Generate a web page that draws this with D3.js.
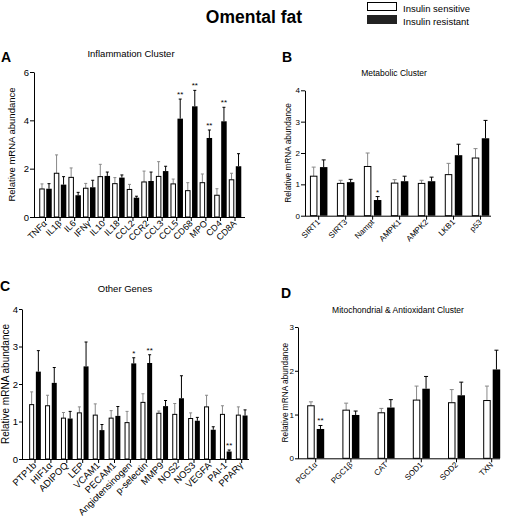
<!DOCTYPE html>
<html><head><meta charset="utf-8">
<script src="https://cdn.jsdelivr.net/npm/d3@7"></script>
<style>body{margin:0;background:#fff}svg{display:block;font-family:"Liberation Sans",Arial,sans-serif}</style>
</head><body><svg id="c" width="505" height="523"></svg>
<script>
// ---- Data ----
const catsA = ["TNFα","IL1β","IL6","IFNγ","IL10","IL18","CCL2","CCR2","CCL3","CCL5","CD68","MPO","CD4","CD8A"];
const sensA = [1.16,1.81,1.64,1.19,1.67,1.38,1.14,1.45,1.68,1.37,1.09,1.42,0.90,1.54];
const sensTopA = [1.37,2.57,2.03,1.39,2.18,1.63,1.35,1.90,2.29,1.57,1.42,1.78,1.17,1.81];
const resA = [1.17,1.34,0.90,1.23,1.70,1.63,0.80,1.49,1.90,4.07,4.58,3.27,3.96,2.10];
const resTopA = [1.38,1.67,1.02,1.52,1.86,1.74,0.86,1.86,2.10,4.88,5.24,3.60,4.54,2.62];
const sigA = ["","","","","","","","","","**","**","**","**",""];
const ticksA = [0,2,4,6];

const catsB = ["SIRT1","SIRT3","Nampt","AMPK1","AMPK2","LKB1","p53"];
const sensB = [1.26,1.03,1.57,1.04,1.03,1.31,1.84];
const sensTopB = [1.55,1.13,2.00,1.15,1.13,1.67,2.14];
const resB = [1.55,1.07,0.50,1.10,1.10,1.93,2.47];
const resTopB = [1.78,1.16,0.61,1.26,1.23,2.28,3.04];
const sigB = ["","","*","","","",""];
const ticksB = [0,1,2,3,4];

const catsC = ["PTP1b","HIF1α","ADIPOQ","LEP","VCAM1","PECAM1","Angiotensinogen","p-selectin","MMP9","NOS2","NOS3","VEGFA","PAI-1","PPARγ"];
const sensC = [1.45,1.42,1.09,1.23,1.17,1.09,0.97,1.51,1.22,1.19,1.08,1.39,1.19,1.17];
const sensTopC = [1.79,1.70,1.24,1.39,1.47,1.29,1.27,1.74,1.28,1.48,1.23,1.70,1.42,1.39];
const resC = [2.33,2.03,1.08,2.47,0.77,1.15,2.55,2.56,1.41,1.62,1.02,0.78,0.20,1.16];
const resTopC = [2.89,2.44,1.27,3.12,0.92,1.40,2.70,2.78,1.56,2.22,1.11,0.86,0.24,1.31];
const sigC = ["","","","","","","*","**","","","","","**",""];
const ticksC = [0,1,2,3,4];

const catsD = ["PGC1α","PGC1β","CAT","SOD1","SOD2","TXN"];
const sensD = [1.20,1.10,1.04,1.33,1.27,1.32];
const sensTopD = [1.29,1.26,1.14,1.65,1.57,1.65];
const resD = [0.67,0.99,1.16,1.59,1.44,2.03];
const resTopD = [0.75,1.08,1.34,1.87,1.74,2.47];
const sigD = ["**","","","","",""];
const ticksD = [0,1,2,3];

const seriesNames = ["Insulin sensitive","Insulin resistant"];

// ---- Drawing ----
const svg = d3.select("#c");

svg.append("text").attr("x",254).attr("y",23).attr("text-anchor","middle")
  .attr("font-size",17.5).attr("font-weight","bold").text("Omental fat");

// legend
const leg = svg.append("g");
leg.append("rect").attr("x",367.5).attr("y",2.5).attr("width",29).attr("height",8).attr("fill","#fff").attr("stroke","#000");
leg.append("rect").attr("x",367).attr("y",15).attr("width",30).attr("height",9).attr("fill","#222");
leg.append("text").attr("x",403).attr("y",12).attr("font-size",9.5).text(seriesNames[0]);
leg.append("text").attr("x",403).attr("y",25).attr("font-size",9.5).text(seriesNames[1]);

function panel(o){
  const g = svg.append("g");
  const y = d3.scaleLinear().domain([0,o.ymax]).range([o.y0,o.yTop]);
  const x = d3.scaleBand().domain(o.cats).range([o.xStart,o.xStart+o.step*o.cats.length]);
  const cx = c => x(c)+x.bandwidth()/2;
  o.cats.forEach((c,i)=>{
    const xc = cx(c);
    const wx = xc - o.gap/2 - o.bw, bx = xc + o.gap/2;
    const ew = wx + o.bw/2, eb = bx + o.bw/2;
    g.append("line").attr("x1",ew).attr("x2",ew).attr("y1",y(o.sens[i])).attr("y2",y(o.sensTop[i])).attr("stroke","#888").attr("stroke-width",1);
    g.append("line").attr("x1",ew-o.cap).attr("x2",ew+o.cap).attr("y1",y(o.sensTop[i])).attr("y2",y(o.sensTop[i])).attr("stroke","#888").attr("stroke-width",1);
    g.append("line").attr("x1",eb).attr("x2",eb).attr("y1",y(o.res[i])).attr("y2",y(o.resTop[i])).attr("stroke","#000").attr("stroke-width",1);
    g.append("line").attr("x1",eb-o.cap).attr("x2",eb+o.cap).attr("y1",y(o.resTop[i])).attr("y2",y(o.resTop[i])).attr("stroke","#000").attr("stroke-width",1);
    g.append("rect").attr("x",wx+0.5).attr("y",y(o.sens[i])).attr("width",o.bw-1).attr("height",o.y0-y(o.sens[i]))
      .attr("fill","#fff").attr("stroke","#000").attr("stroke-width",1);
    g.append("rect").attr("x",bx).attr("y",y(o.res[i])).attr("width",o.bw).attr("height",o.y0-y(o.res[i])).attr("fill","#000");
    if(o.sig[i]) g.append("text").attr("x",eb).attr("y",y(o.resTop[i])-2).attr("text-anchor","middle")
      .attr("font-size",8).text(o.sig[i]);
  });
  const ya = g.append("g").attr("transform",`translate(${o.xAxis},0)`)
    .call(d3.axisLeft(y).tickValues(o.ticks).tickSize(o.tl).tickPadding(1).tickSizeOuter(0).tickFormat(d3.format("d")));
  ya.selectAll("text").attr("font-size",o.tickFs).attr("font-family","inherit").attr("fill","#000");
  ya.select(".domain").attr("stroke","#000");
  g.append("line").attr("x1",o.xAxis).attr("x2",o.xEnd).attr("y1",o.y0+0.5).attr("y2",o.y0+0.5).attr("stroke","#000");
  o.cats.forEach(c=>{
    const xc = cx(c);
    g.append("line").attr("x1",xc).attr("x2",xc).attr("y1",o.y0).attr("y2",o.y0+4).attr("stroke","#000");
    g.append("text").attr("transform",`translate(${xc+2},${o.y0+7}) rotate(-45)`).attr("text-anchor","end")
      .attr("font-size",o.xFs).text(c);
  });
  g.append("text").attr("transform",`translate(${o.ylx},${(o.y0+o.yTop)/2}) rotate(-90)`).attr("text-anchor","middle")
    .attr("font-size",o.ylFs).text("Relative mRNA abundance");
  g.append("text").attr("x",o.tx).attr("y",o.ty).attr("text-anchor","middle").attr("font-size",o.tFs).text(o.title);
  g.append("text").attr("x",o.lx).attr("y",o.ly).attr("font-size",14).attr("font-weight","bold").text(o.letter);
}

panel({cats:catsA,sens:sensA,sensTop:sensTopA,res:resA,resTop:resTopA,sig:sigA,ticks:ticksA,ymax:6,
  xAxis:34,xEnd:245,y0:217,yTop:72,xStart:38.2,step:14.58,bw:5.5,gap:1.5,cap:1.5,tl:4,tickFs:9.5,xFs:9,ylFs:9.5,ylx:15,
  title:"Inflammation Cluster",tx:131,ty:57,tFs:9.5,letter:"A",lx:1,ly:62});
panel({cats:catsB,sens:sensB,sensTop:sensTopB,res:resB,resTop:resTopB,sig:sigB,ticks:ticksB,ymax:4,
  xAxis:305,xEnd:491,y0:215.7,yTop:90.3,xStart:305.2,step:26.97,bw:7.5,gap:2.5,cap:2,tl:4,tickFs:8,xFs:8,ylFs:8.3,ylx:291,
  title:"Metabolic Cluster",tx:394,ty:76,tFs:8.5,letter:"B",lx:282,ly:62});
panel({cats:catsC,sens:sensC,sensTop:sensTopC,res:resC,resTop:resTopC,sig:sigC,ticks:ticksC,ymax:4,
  xAxis:22,xEnd:249,y0:459,yTop:309,xStart:27.05,step:15.9,bw:5,gap:1.7,cap:1.5,tl:3,tickFs:9.5,xFs:9.5,ylFs:10,ylx:9,
  title:"Other Genes",tx:125,ty:292,tFs:9.5,letter:"C",lx:0,ly:291});
panel({cats:catsD,sens:sensD,sensTop:sensTopD,res:resD,resTop:resTopD,sig:sigD,ticks:ticksD,ymax:3,
  xAxis:298,xEnd:500,y0:458.3,yTop:327,xStart:298.1,step:35.2,bw:7.5,gap:2,cap:2,tl:3,tickFs:8,xFs:8,ylFs:8.3,ylx:288,
  title:"Mitochondrial & Antioxidant Cluster",tx:398,ty:313,tFs:8.5,letter:"D",lx:281,ly:298});
</script></body></html>
